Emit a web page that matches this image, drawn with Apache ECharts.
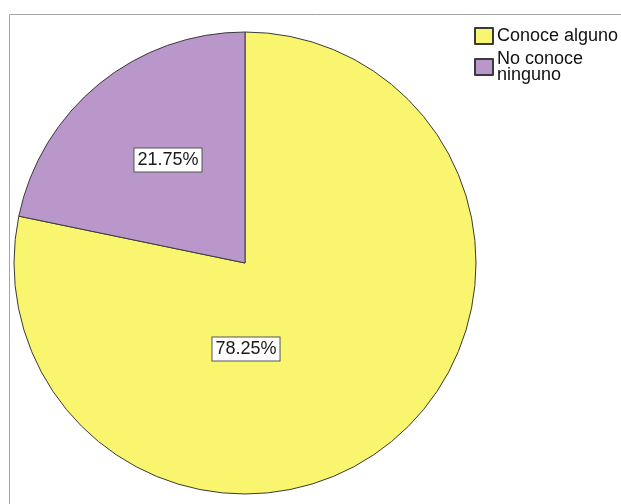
<!DOCTYPE html>
<html>
<head>
<meta charset="utf-8">
<script src="https://cdn.jsdelivr.net/npm/echarts@6/dist/echarts.min.js"></script>
<style>
  html, body { margin: 0; padding: 0; background: #ffffff; }
  #chart { width: 621px; height: 504px; }
</style>
</head>
<body>
<div id="chart"></div>
<script>
// Categories and percentages
const categories = ['Conoce alguno', 'No conoce ninguno'];
const percentages = [78.25, 21.75];
const sliceColors = ['#FAF56E', '#BA97CB'];

// Where each percentage box sits inside its slice (pixels)
const labelAnchors = [[246, 349], [168, 160]];

const chart = echarts.init(document.getElementById('chart'), null, { renderer: 'canvas' });

const font = '"Liberation Sans", Arial, sans-serif';

chart.setOption({
  animation: false,
  backgroundColor: '#ffffff',
  graphic: [{
    type: 'rect',
    silent: true,
    shape: { x: 9.5, y: 14.5, width: 700, height: 600 },
    style: { fill: 'none', stroke: '#a4a4a4', lineWidth: 1 }
  }],
  legend: {
    orient: 'vertical',
    left: 474,
    top: 27,
    padding: 0,
    itemWidth: 18,
    itemHeight: 16,
    itemGap: 5,
    icon: 'rect',
    selectedMode: false,
    textStyle: { fontFamily: font, fontSize: 18, color: '#111', lineHeight: 16, padding: [0, 0, 0, -1] },
    formatter: function (name) { return name === 'No conoce ninguno' ? 'No conoce\nninguno' : name; },
    data: categories
  },
  series: [{
    type: 'pie',
    center: [245, 263],
    radius: 231,
    startAngle: 90,
    clockwise: true,
    silent: true,
    emphasis: { disabled: true },
    itemStyle: { borderColor: '#3a3a3a', borderWidth: 1 },
    label: {
      show: true,
      position: 'inside',
      formatter: function (p) { return p.value.toFixed(2) + '%'; },
      fontFamily: font,
      fontSize: 18,
      color: '#1a1a1a',
      backgroundColor: '#ffffff',
      borderColor: '#555',
      borderWidth: 1,
      padding: [3, 3, 2, 3]
    },
    labelLine: { show: false },
    labelLayout: function (params) {
      const a = labelAnchors[params.dataIndex];
      return { x: a[0], y: a[1], align: 'center', verticalAlign: 'middle' };
    },
    data: categories.map(function (name, i) {
      return { name: name, value: percentages[i], itemStyle: { color: sliceColors[i] } };
    })
  }]
});
</script>
</body>
</html>
